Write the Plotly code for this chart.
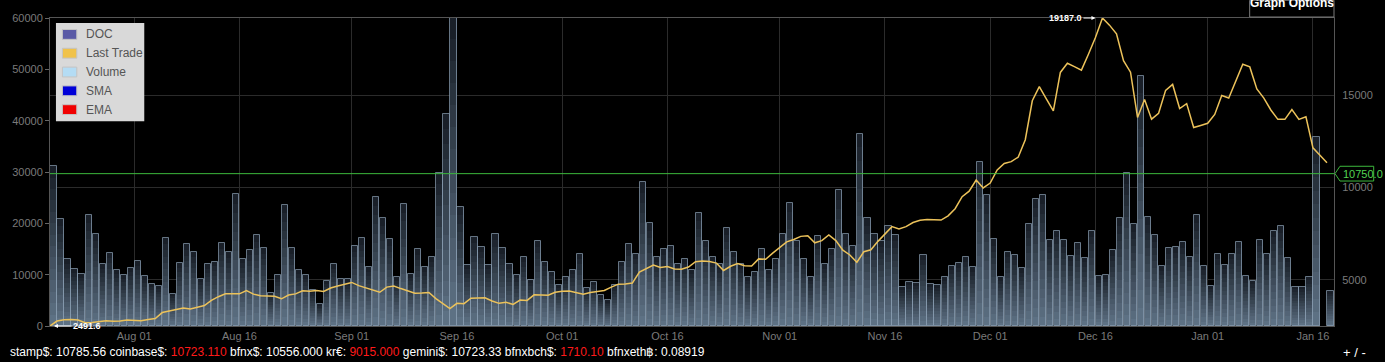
import pandas as pd
import plotly.graph_objects as go

# ---------------- data ----------------
dates = pd.date_range("2017-07-20", periods=183, freq="D")

volume = [
    31150, 20900, 13000, 11200, 10130, 21540, 17830, 12060, 14230, 10960,
    9940, 11290, 12690, 9680, 8210, 7830, 17180, 6290, 12250, 16020,
    14420, 9230, 12060, 12500, 16100, 14360, 25630, 13130, 14810, 17690,
    15190, 6480, 9940, 23650, 15130, 10960, 9940, 6920, 4230, 8850,
    12060, 9170, 9170, 15580, 17050, 11410, 25190, 21020, 16860, 9490,
    23790, 10130, 14940, 11410, 13460, 29870, 41350, 60300, 23270, 11920,
    17370, 15450, 11920, 18020, 15130, 12000, 10000, 13500, 9000, 16500,
    12500, 10500, 8000, 9500, 11000, 14000, 7500, 8500, 6000, 5000,
    8000, 12500, 16000, 14000, 28000, 20000, 13500, 15000, 15500, 12000,
    13000, 11000, 22000, 16500, 13500, 12000, 19000, 14500, 12000, 9500,
    10500, 15000, 11000, 13000, 18000, 24000, 16500, 13000, 9500, 17500,
    12000, 15000, 26500, 18000, 15500, 37500, 21000, 18000, 16540, 19420,
    17820, 7560, 8520, 8400, 13780, 8200, 8010, 9490, 11730, 12250,
    13400, 11410, 31920, 25510, 16860, 9490, 14420, 13780, 11220, 19940,
    24740, 25510, 16670, 18600, 16670, 13590, 16220, 13330, 18600, 9750,
    9940, 14750, 20960, 29810, 19810, 48780, 21210, 17690, 11600, 15130,
    15380, 16350, 13520, 21670, 11670, 7750, 13970, 11920, 14100, 16410,
    9670, 8710, 16790, 13970, 18600, 19420, 13330, 7690, 7690, 9620,
    36860, None, 6730,
]

last_trade = [
    2491.6, 2760, 2830, 2845, 2812, 2668, 2680, 2740, 2770, 2750,
    2760, 2812, 2790, 2774, 2850, 2900, 3220, 3300, 3380, 3470,
    3414, 3490, 3600, 3880, 4080, 4233, 4233, 4233, 4412, 4220,
    4130, 4108, 4100, 3966, 4170, 4233, 4400, 4376, 4412, 4360,
    4550, 4660, 4760, 4854, 4678, 4560, 4470, 4321, 4600, 4662,
    4520, 4400, 4267, 4280, 4305, 3980, 3700, 3434, 3720, 3700,
    4000, 4020, 4020, 3850, 3720, 3780, 3660, 3900, 3880, 4180,
    4170, 4160, 4320, 4380, 4390, 4300, 4220, 4310, 4360, 4420,
    4600, 4760, 4770, 4820, 5420, 5620, 5800, 5660, 5720, 5580,
    5570, 5690, 5980, 6010, 5990, 5900, 5500, 5730, 5880, 5760,
    5740, 6130, 6110, 6440, 6740, 7050, 7180, 7350, 7380, 7000,
    7120, 7430, 7120, 6600, 6340, 5950, 6520, 6620, 7079, 7480,
    7879, 7755, 7879, 8100, 8220, 8265, 8250, 8236, 8465, 8850,
    9500, 9800, 10400, 9976, 10243, 10950, 11300, 11400, 11650, 12591,
    14700, 15470, 14800, 14156, 16237, 16733, 16550, 16360, 17220, 18130,
    19187, 18800, 18333, 16871, 16249, 13795, 14771, 13702, 14022, 15266,
    15586, 14279, 14546, 13248, 13360, 13479, 13959, 14990, 14848, 15754,
    16677, 16535, 15346, 14848, 14200, 13692, 13692, 14226, 13692, 13835,
    12146, 11750, 11346,
]

current_price = 10750.0
price_high = 19187.0
price_low = 2491.6

vol_ticks = [0, 10000, 20000, 30000, 40000, 50000, 60000]
price_ticks = [5000, 10000, 15000]
date_ticks = ["2017-08-01", "2017-08-16", "2017-09-01", "2017-09-16", "2017-10-01",
              "2017-10-16", "2017-11-01", "2017-11-16", "2017-12-01", "2017-12-16",
              "2018-01-01", "2018-01-16"]

legend_names = ["DOC", "Last Trade", "Volume", "SMA", "EMA"]
legend_colors = ["#5a5aa6", "#f0c24a", "#b4dcf4", "#0000d8", "#f00000"]

ticker = [("stamp$", "10785.56", "white"), ("coinbase$", "10723.110", "#ff1a1a"),
          ("bfnx$", "10556.000", "white"), ("kr€", "9015.000", "#ff1a1a"),
          ("gemini$", "10723.33", "white"), ("bfnxbch$", "1710.10", "#ff1a1a"),
          ("bfnxeth฿", "0.08919", "white")]

# ---------------- layout geometry (pixels) ----------------
W, H = 1385, 362
PL, PR, PT, PB = 45, 1339, 13, 326


def px(x):
    return (x - PL) / (PR - PL)


def py(y):
    return (PB - y) / (PB - PT)


DAY = 86400000
FONT = "Liberation Sans, Arial, sans-serif"

fig = go.Figure()

# gradient volume bars: stacked slices, light at bottom, dark at top
N = 14
bot = (96, 116, 136)
top = (22, 28, 36)
for k in range(N):
    t = (k + 0.5) / N
    c = tuple(round(bot[i] + (top[i] - bot[i]) * t) for i in range(3))
    fig.add_trace(go.Bar(
        x=dates,
        y=[None if v is None else v / N for v in volume],
        base=[None if v is None else v * k / N for v in volume],
        width=DAY * 0.88, offset=DAY * 0.06,
        marker=dict(color="rgb(%d,%d,%d)" % c, line=dict(width=0)),
        showlegend=False, hoverinfo="skip", yaxis="y",
    ))
# bar outlines
fig.add_trace(go.Bar(
    x=dates, y=volume, width=DAY * 0.88, offset=DAY * 0.06,
    marker=dict(color="rgba(0,0,0,0)", line=dict(width=1, color="rgba(135,155,175,0.75)")),
    showlegend=False, name="Volume", yaxis="y",
))

# last trade line
fig.add_trace(go.Scatter(
    x=dates, y=last_trade, mode="lines", name="Last Trade",
    line=dict(color="#ecc25a", width=1.5), yaxis="y2", showlegend=False,
))

fig.update_layout(
    width=W, height=H,
    margin=dict(l=PL, r=W - PR, t=PT, b=H - PB, pad=0),
    paper_bgcolor="black", plot_bgcolor="black",
    barmode="overlay", bargap=0,
    font=dict(family=FONT, color="#7a7a7a", size=11),
    xaxis=dict(
        type="date", range=[dates[0], dates[-1] + pd.Timedelta(days=1)],
        tickvals=date_ticks, tickformat="%b %d",
        showgrid=True, gridcolor="#2b2b2b", gridwidth=1,
        showline=True, linecolor="#555", mirror=True,
        ticks="", zeroline=False, tickfont=dict(size=11, color="#7a7a7a"),
    ),
    yaxis=dict(
        range=[0, 60000], tickvals=vol_ticks, tickformat="d", showgrid=False,
        ticks="outside", ticklen=4, tickcolor="#666",
        showline=True, linecolor="#555", zeroline=False,
        tickfont=dict(size=11, color="#7a7a7a"),
    ),
    yaxis2=dict(
        range=[price_low, price_high], overlaying="y", side="right",
        tickvals=price_ticks, tickformat="d", showgrid=True, gridcolor="#2b2b2b",
        ticks="outside", ticklen=5, tickcolor="rgba(0,0,0,0)",
        showline=True, linecolor="#555", zeroline=False,
        tickfont=dict(size=11, color="#7a7a7a"),
    ),
    showlegend=False,
)

shapes = []
annotations = []

# current price line and tag
shapes.append(dict(type="line", xref="paper", x0=0, x1=1, yref="y2",
                   y0=current_price, y1=current_price,
                   line=dict(color="#3cb83c", width=1), layer="above"))
yc = 326 - (current_price - price_low) / (price_high - price_low) * (PB - PT)
tag = "M %f %f L %f %f L %f %f L %f %f L %f %f Z" % (
    px(1340), py(yc), px(1345), py(yc - 7.5), px(1379), py(yc - 7.5),
    px(1379), py(yc + 7.5), px(1345), py(yc + 7.5))
shapes.append(dict(type="path", xref="paper", yref="paper", path=tag,
                   line=dict(color="#3cb83c", width=1), fillcolor="black", layer="above"))
annotations.append(dict(xref="paper", yref="y2", x=px(1346), y=current_price,
                        xanchor="left", yanchor="middle", showarrow=False,
                        text="%.1f" % current_price,
                        font=dict(color="#52d452", size=11, family=FONT)))

# high / low markers
i_hi = last_trade.index(max(last_trade))
annotations.append(dict(x=dates[i_hi], y=price_high, xref="x", yref="y2",
                        text="<b>%.1f</b>" % price_high, showarrow=True,
                        ax=-37, ay=0, standoff=7, arrowhead=2, arrowsize=0.8,
                        arrowwidth=1, arrowcolor="white",
                        font=dict(color="white", size=9, family=FONT)))
i_lo = last_trade.index(min(last_trade))
annotations.append(dict(x=dates[i_lo], y=price_low, xref="x", yref="y2",
                        text="<b>%.1f</b>" % price_low, showarrow=True,
                        ax=37, ay=0, standoff=4, arrowhead=2, arrowsize=0.8,
                        arrowwidth=1, arrowcolor="white",
                        font=dict(color="white", size=9, family=FONT)))

# manual legend
shapes.append(dict(type="rect", xref="paper", yref="paper",
                   x0=px(51), x1=px(140), y0=py(118), y1=py(18),
                   fillcolor="#d9d9d9", line=dict(width=0), layer="above"))
for j, (nm, col) in enumerate(zip(legend_names, legend_colors)):
    yc_ = 29.7 + j * 19.1
    shapes.append(dict(type="rect", xref="paper", yref="paper",
                       x0=px(57.5), x1=px(72), y0=py(yc_ + 5), y1=py(yc_ - 5),
                       fillcolor=col, line=dict(color="#c4c4c4", width=1), layer="above"))
    annotations.append(dict(xref="paper", yref="paper", x=px(79), y=py(yc_),
                            xanchor="left", yanchor="middle", showarrow=False,
                            text=nm, font=dict(color="#555555", size=12, family=FONT)))

# Graph Options button (cut at top)
shapes.append(dict(type="rect", xref="paper", yref="paper",
                   x0=px(1254), x1=px(1339), y0=py(12), y1=py(-5),
                   fillcolor="black", line=dict(color="#7a7a7a", width=1), layer="above"))
annotations.append(dict(xref="paper", yref="paper", x=px(1297), y=py(-2),
                        xanchor="center", yanchor="middle", showarrow=False,
                        text="<b>Graph Options</b>",
                        font=dict(color="white", size=12, family=FONT)))

# ticker line
parts = []
for name, val, col in ticker:
    if col == "white":
        parts.append("%s: %s" % (name, val))
    else:
        parts.append('%s: <span style="color:%s">%s</span>' % (name, col, val))
annotations.append(dict(xref="paper", yref="paper", x=px(3), y=py(352),
                        xanchor="left", yanchor="middle", showarrow=False,
                        text=" ".join(parts),
                        font=dict(color="white", size=12, family=FONT)))
annotations.append(dict(xref="paper", yref="paper", x=px(1360), y=py(353),
                        xanchor="center", yanchor="middle", showarrow=False,
                        text="+ / -", font=dict(color="white", size=13, family=FONT)))

fig.update_layout(shapes=shapes, annotations=annotations)

fig.write_html("out.html",
               config={"displayModeBar": False},
               post_script="document.body.style.margin='0px';document.body.style.overflow='hidden';")
